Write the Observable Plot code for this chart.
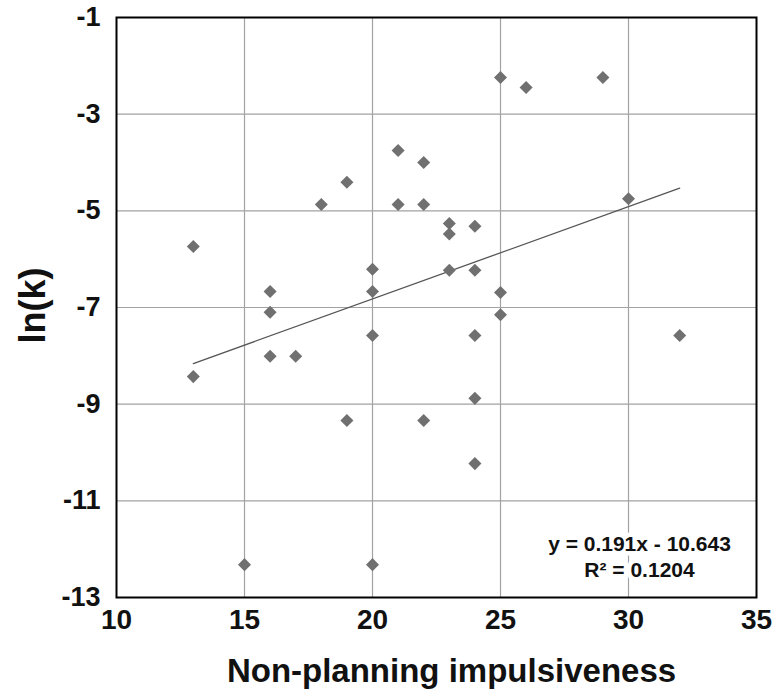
<!DOCTYPE html>
<html><head><meta charset="utf-8">
<script src="https://cdn.jsdelivr.net/npm/d3@7"></script>
<script src="https://cdn.jsdelivr.net/npm/@observablehq/plot@0.6"></script>
<style>
body{margin:0;background:#fff;}
#chart svg{display:block;font-family:"Liberation Sans",Arial,sans-serif;}
</style>
</head><body><div id="chart"></div>
<script>
// Data
const impulsiveness = [13,13,15,16,16,16,17,18,19,19,20,20,20,20,21,21,22,22,22,23,23,23,24,24,24,24,24,25,25,25,26,29,30,32];
const lnK = [-5.74,-8.43,-12.32,-6.67,-7.10,-8.01,-8.01,-4.87,-4.41,-9.34,-6.21,-6.67,-7.58,-12.32,-3.75,-4.87,-4.0,-4.87,-9.34,-5.26,-5.48,-6.23,-5.32,-6.23,-7.58,-8.88,-10.23,-2.24,-6.69,-7.15,-2.45,-2.24,-4.75,-7.58];
const xTicks = [10,15,20,25,30,35];
const yTicks = [-1,-3,-5,-7,-9,-11,-13];
const slope = 0.191;
const intercept = -10.643;
const rSquared = 0.1204;
const trendRange = [13, 32];
const xTitle = "Non-planning impulsiveness";
const yTitle = "ln(k)";

const points = impulsiveness.map((x, i) => ({x, y: lnK[i]}));
const trend = trendRange.map(x => ({x, y: slope * x + intercept}));
const eqText = `y = ${slope}x - ${Math.abs(intercept)}\nR² = ${rSquared}`;

const diamond = {
  draw(context, size) {
    const r = Math.sqrt(size / 2);
    context.moveTo(0, -r);
    context.lineTo(r, 0);
    context.lineTo(0, r);
    context.lineTo(-r, 0);
    context.closePath();
  }
};

const chart = Plot.plot({
  width: 778,
  height: 698,
  marginLeft: 116,
  marginRight: 22,
  marginTop: 17,
  marginBottom: 101,
  x: {domain: [xTicks[0], xTicks[xTicks.length - 1]]},
  y: {domain: [yTicks[yTicks.length - 1], yTicks[0]]},
  marks: [
    Plot.gridX(xTicks.slice(1, -1), {stroke: "#a2a2a2", strokeOpacity: 1, strokeWidth: 1.2}),
    Plot.gridY(yTicks.slice(1, -1), {stroke: "#a2a2a2", strokeOpacity: 1, strokeWidth: 1.2}),
    Plot.line(trend, {x: "x", y: "y", stroke: "#555", strokeWidth: 1.3}),
    Plot.dot(points, {x: "x", y: "y", symbol: diamond, r: 5.2, fill: "#707070", stroke: "none"}),
    Plot.text([eqText], {frameAnchor: "bottom-right", dx: -117, dy: -42, textAnchor: "middle", lineAnchor: "middle", lineHeight: 1.25,
      fontSize: 21, fontWeight: "bold", fill: "#111", stroke: "white", strokeWidth: 9, paintOrder: "stroke"}),
    Plot.frame({stroke: "black", strokeWidth: 2}),
    Plot.axisX({ticks: xTicks, tickSize: 0, tickPadding: 12, fontSize: 28, fontWeight: "bold", label: null, tickFormat: d => String(d), fill: "#111"}),
    Plot.axisY({ticks: yTicks, tickSize: 0, tickPadding: 16, fontSize: 27, fontWeight: "bold", label: null, tickFormat: d => String(d), fill: "#111"}),
    Plot.text([xTitle], {frameAnchor: "bottom", textAnchor: "middle", lineAnchor: "middle", dx: 15, dy: 74, fontSize: 33, fontWeight: "bold", fill: "#111"}),
    Plot.text([yTitle], {frameAnchor: "left", textAnchor: "middle", lineAnchor: "middle", rotate: -90, dx: -83, dy: -2, fontSize: 36, fontWeight: "bold", fill: "#111"})
  ]
});
document.getElementById("chart").appendChild(chart);
</script>
</body></html>
